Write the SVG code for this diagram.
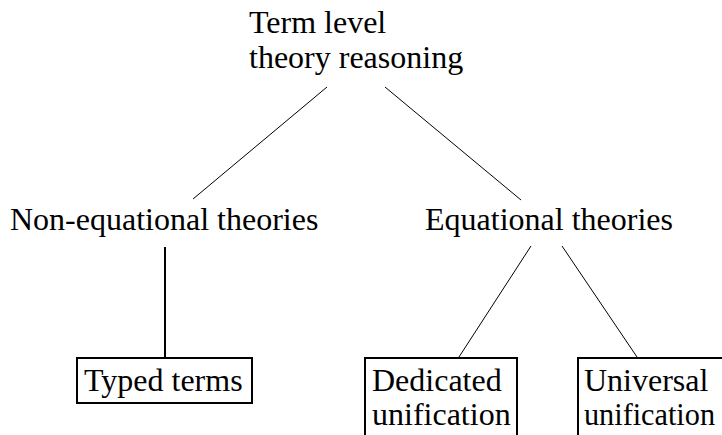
<svg xmlns="http://www.w3.org/2000/svg" width="722" height="435" viewBox="0 0 722 435">
<style>
text{font-family:"Liberation Serif","Times New Roman",serif;font-size:32px;fill:#000}
.box{fill:#fff;stroke:#000;stroke-width:2}
.c{stroke:#000;stroke-width:1;fill:none}
.c2{stroke:#000;stroke-width:2;fill:none}
</style>
<rect width="722" height="435" fill="#fff"/>
<g id="connectors">
<line class="c" x1="327" y1="87" x2="193" y2="199"/>
<line class="c" x1="385" y1="87" x2="521" y2="200"/>
<line class="c2" x1="165" y1="247" x2="165" y2="358"/>
<line class="c" x1="531" y1="246" x2="459" y2="357"/>
<line class="c" x1="562" y1="246" x2="637" y2="357"/>
</g>
<g id="root">
<text x="249" y="33">Term level</text>
<text x="249" y="68">theory reasoning</text>
</g>
<g id="nonequational">
<text x="10" y="230">Non-equational theories</text>
</g>
<g id="equational">
<text x="425" y="230">Equational theories</text>
</g>
<g id="typed">
<rect class="box" x="77" y="358" width="175" height="45"/>
<text x="84" y="391">Typed terms</text>
</g>
<g id="dedicated">
<rect class="box" x="365" y="358" width="152" height="90"/>
<text x="372" y="391">Dedicated</text>
<text x="372" y="425">unification</text>
</g>
<g id="universal">
<rect class="box" x="578" y="358" width="160" height="90"/>
<text x="584" y="391">Universal</text>
<text x="584" y="425" textLength="131" lengthAdjust="spacingAndGlyphs">unification</text>
</g>
</svg>
